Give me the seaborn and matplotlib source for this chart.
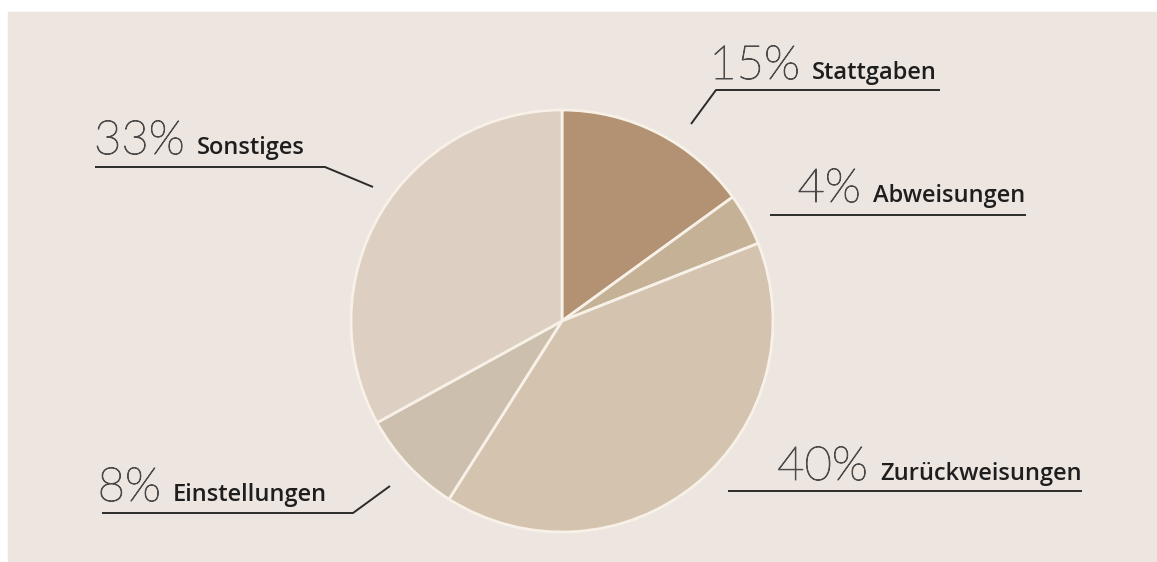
import matplotlib
matplotlib.use("Agg")
import matplotlib.pyplot as plt
import matplotlib.patheffects as pe
import seaborn as sns
from matplotlib.patches import Rectangle

# Daten
kategorien = ["Stattgaben", "Abweisungen", "Zurückweisungen", "Einstellungen", "Sonstiges"]
anteile = [15, 4, 40, 8, 33]
farben = ["#b29272", "#c5b196", "#d4c3af", "#cdbfae", "#ddd0c2"]

sns.set_theme(style="white")
plt.rcParams["font.family"] = ["Lato", "DejaVu Sans"]

W, H = 1157, 562
fig = plt.figure(figsize=(W / 100, H / 100), dpi=100, facecolor="white")
ax = fig.add_axes([0, 0, 1, 1])
ax.set_facecolor("white")

# beiger Hintergrund
ax.add_patch(Rectangle((8, 0), W - 8, H - 12, color="#ede5e0", zorder=0))

# Tortendiagramm (Pixel-Koordinaten, y nach oben)
cx, cy, r = 562, H - 321, 211
ax.pie(anteile, colors=farben, startangle=90, counterclock=False,
       center=(cx, cy), radius=r,
       wedgeprops={"edgecolor": "#f8f1e8", "linewidth": 2})
ax.set_xlim(0, W)
ax.set_ylim(0, H)
ax.set_aspect("equal")
ax.axis("off")

# Beschriftungen: (Label x, Grundlinie y, Linienpunkte)
layout = {
    "Stattgaben": (812, 79, [(691, 124), (716, 90), (940, 90)]),
    "Abweisungen": (873, 202, [(770, 215), (1026, 215)]),
    "Zurückweisungen": (880, 480, [(728, 491), (1082, 491)]),
    "Einstellungen": (173, 501, [(102, 513), (353, 513), (390, 486)]),
    "Sonstiges": (197, 154, [(95, 167), (325, 167), (373, 187)]),
}

for name, wert in zip(kategorien, anteile):
    lx, by, punkte = layout[name]
    ax.text(lx - 12, H - by, f"{wert}%", fontsize=34, fontweight="light",
            color="#4a4a4a", va="baseline", ha="right",
            path_effects=[pe.withStroke(linewidth=0.7, foreground="#4a4a4a")])
    ax.text(lx, H - by, name, fontsize=17, fontweight="semibold",
            family=["Open Sans", "DejaVu Sans"],
            color="#1e1e1e", va="baseline", ha="left")
    xs = [p[0] for p in punkte]
    ys = [H - p[1] for p in punkte]
    ax.plot(xs, ys, color="#2b2b2b", linewidth=1.4, solid_capstyle="butt")

fig.savefig("out.png", dpi=100, facecolor="white")
